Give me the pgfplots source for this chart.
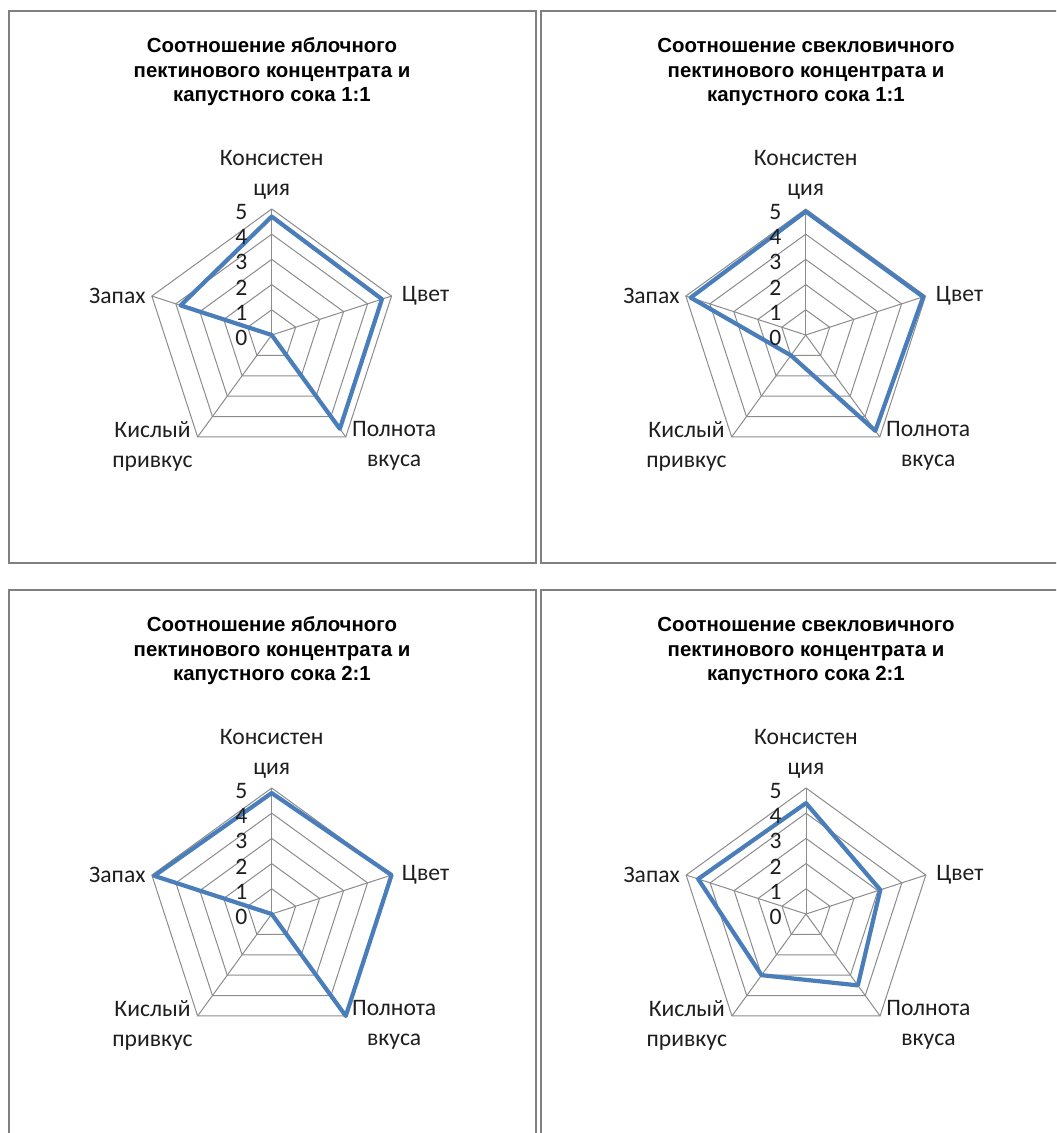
\documentclass[border=0pt]{standalone}
\usepackage{fontspec}
\setmainfont{Carlito}
\newfontfamily\titlefont{Liberation Sans}
\usepackage{pgfplots}
\pgfplotsset{compat=1.18}
\usepgfplotslibrary{polar}

\definecolor{serblue}{RGB}{74,126,187}
\definecolor{gridgray}{RGB}{140,140,140}
\definecolor{boxgray}{RGB}{128,128,128}
\definecolor{lblcol}{RGB}{30,30,30}

\newcommand\lbl{\fontsize{11.8}{15}\selectfont}
\newcommand\ttl{\titlefont\bfseries\fontsize{10.2}{12.3}\selectfont}

\pgfplotsset{
  radar/.style={
    scale only axis, width=126pt, height=126pt,
    xmin=0, xmax=360, ymin=0, ymax=5,
    hide axis, anchor=center, clip=false,
  },
  gridline/.style={gridgray, line width=0.5pt},
  serline/.style={serblue, line width=2.1pt, line join=round, line cap=round},
}

\newcommand\radargrid{%
  \addplot[gridline] coordinates {(90,1)(18,1)(-54,1)(-126,1)(162,1)(90,1)};
  \addplot[gridline] coordinates {(90,2)(18,2)(-54,2)(-126,2)(162,2)(90,2)};
  \addplot[gridline] coordinates {(90,3)(18,3)(-54,3)(-126,3)(162,3)(90,3)};
  \addplot[gridline] coordinates {(90,4)(18,4)(-54,4)(-126,4)(162,4)(90,4)};
  \addplot[gridline] coordinates {(90,5)(18,5)(-54,5)(-126,5)(162,5)(90,5)};
  \addplot[gridline] coordinates {(90,0)(90,5)};
  \addplot[gridline] coordinates {(18,0)(18,5)};
  \addplot[gridline] coordinates {(-54,0)(-54,5)};
  \addplot[gridline] coordinates {(-126,0)(-126,5)};
  \addplot[gridline] coordinates {(162,0)(162,5)};
}
\newcommand\radarlabels{%
  \node[font=\lbl, text=lblcol, align=center, inner sep=0pt, anchor=center, yshift=17pt] at (axis cs:90,5) {Консистен\\ция};
  \node[font=\lbl, text=lblcol, inner sep=0pt, anchor=west, xshift=5pt] at (axis cs:18,5) {Цвет};
  \node[font=\lbl, text=lblcol, align=center, inner sep=0pt, anchor=west, xshift=3pt, yshift=-4.5pt] at (axis cs:-54,5) {Полнота\\вкуса};
  \node[font=\lbl, text=lblcol, align=center, inner sep=0pt, anchor=east, xshift=-2.3pt, yshift=-4.5pt] at (axis cs:-126,5) {Кислый\\привкус};
  \node[font=\lbl, text=lblcol, inner sep=0pt, anchor=east, xshift=-3pt] at (axis cs:162,5) {Запах};
  \node[font=\lbl, text=lblcol, inner sep=0pt, anchor=east, xshift=-12pt, yshift=-1.5pt] at (axis cs:90,5) {5};
  \node[font=\lbl, text=lblcol, inner sep=0pt, anchor=east, xshift=-12pt, yshift=-1.5pt] at (axis cs:90,4) {4};
  \node[font=\lbl, text=lblcol, inner sep=0pt, anchor=east, xshift=-12pt, yshift=-1.5pt] at (axis cs:90,3) {3};
  \node[font=\lbl, text=lblcol, inner sep=0pt, anchor=east, xshift=-12pt, yshift=-1.5pt] at (axis cs:90,2) {2};
  \node[font=\lbl, text=lblcol, inner sep=0pt, anchor=east, xshift=-12pt, yshift=-1.5pt] at (axis cs:90,1) {1};
  \node[font=\lbl, text=lblcol, inner sep=0pt, anchor=east, xshift=-12pt, yshift=-1.5pt] at (axis cs:90,0) {0};
}

\begin{document}
\begin{tikzpicture}
\useasboundingbox (0,0) rectangle (528pt,-566.5pt);
\clip (0,0) rectangle (528pt,-566.5pt);
\fill[white] (0,0) rectangle (528pt,-566.5pt);

% frames
\draw[boxgray, line width=1pt] (4.5pt,-5.5pt) rectangle (268pt,-281.5pt);
\draw[boxgray, line width=1pt] (270.5pt,-5.5pt) rectangle (540pt,-281.5pt);
\draw[boxgray, line width=1pt] (4.5pt,-295pt) rectangle (268pt,-580pt);
\draw[boxgray, line width=1pt] (270.5pt,-295pt) rectangle (540pt,-580pt);

% titles
\node[font=\ttl, align=center] at (136pt,-36pt) {Соотношение яблочного\\пектинового концентрата и\\капустного сока 1:1};
\node[font=\ttl, align=center] at (403pt,-36pt) {Соотношение свекловичного\\пектинового концентрата и\\капустного сока 1:1};
\node[font=\ttl, align=center] at (136pt,-325.5pt) {Соотношение яблочного\\пектинового концентрата и\\капустного сока 2:1};
\node[font=\ttl, align=center] at (403pt,-325.5pt) {Соотношение свекловичного\\пектинового концентрата и\\капустного сока 2:1};

% apple 1:1
\begin{polaraxis}[radar, at={(135.85pt,-167.5pt)}]
\radargrid
\addplot[serline] coordinates {(90,4.7)(18,4.6)(-54,4.6)(-126,0)(162,3.8)(90,4.7)};
\radarlabels
\end{polaraxis}

% beet 1:1
\begin{polaraxis}[radar, at={(402.85pt,-167.5pt)}]
\radargrid
\addplot[serline] coordinates {(90,4.9)(18,4.9)(-54,4.7)(-126,1.0)(162,4.8)(90,4.9)};
\radarlabels
\end{polaraxis}

% apple 2:1
\begin{polaraxis}[radar, at={(135.85pt,-457pt)}]
\radargrid
\addplot[serline] coordinates {(90,4.8)(18,5.0)(-54,5.0)(-126,0)(162,4.9)(90,4.8)};
\radarlabels
\end{polaraxis}

% beet 2:1
\begin{polaraxis}[radar, at={(403pt,-457pt)}]
\radargrid
\addplot[serline] coordinates {(90,4.4)(18,3.1)(-54,3.5)(-126,3.0)(162,4.5)(90,4.4)};
\radarlabels
\end{polaraxis}
\end{tikzpicture}
\end{document}
